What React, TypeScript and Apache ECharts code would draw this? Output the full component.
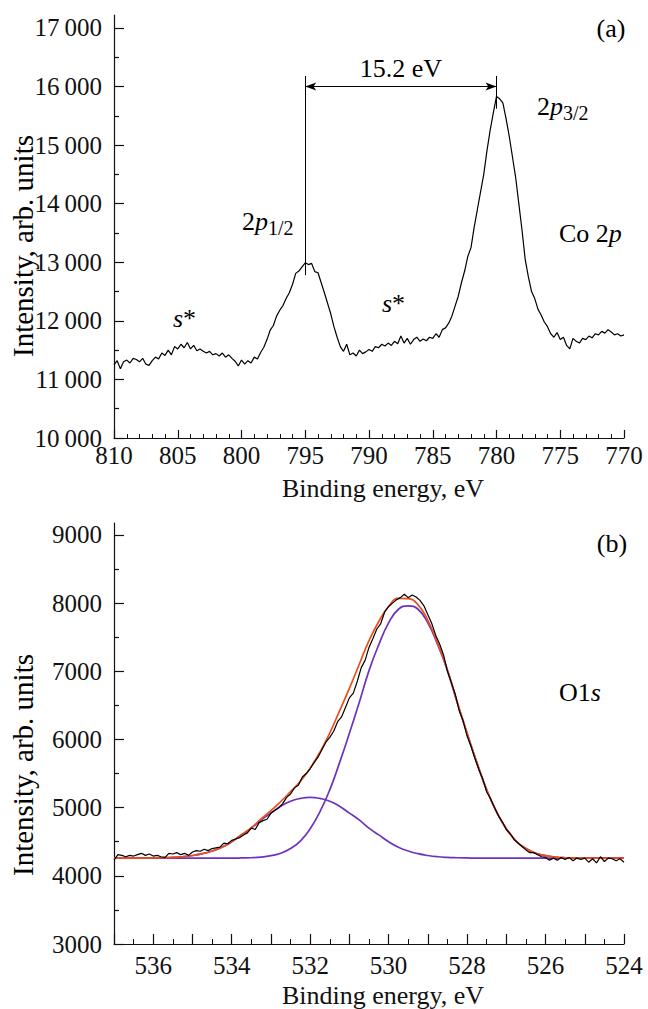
import React, { useEffect, useRef } from "react";
import * as echarts from "echarts";

const FONT = "Liberation Serif, Times New Roman, serif";

// ---------- Panel (a): Co 2p ----------
const CO_START = 810;
const CO_STEP = -0.25;
// intensity every 0.25 eV from 810 eV down to 770 eV
const CO_INTENSITY = [
  11250, 11320, 11180, 11300, // 810
  11330, 11280, 11360, 11340, // 809
  11300, 11360, 11260, 11240, // 808
  11320, 11380, 11350, 11450, // 807
  11410, 11500, 11420, 11560, // 806
  11520, 11600, 11540, 11630, // 805
  11520, 11580, 11490, 11520, // 804
  11480, 11450, 11480, 11420, // 803
  11440, 11400, 11450, 11380, // 802
  11420, 11360, 11310, 11230, // 801
  11330, 11260, 11320, 11280, // 800
  11380, 11350, 11460, 11550, // 799
  11680, 11840, 11920, 12080, // 798
  12180, 12260, 12380, 12480, // 797
  12620, 12810, 12850, 12920, // 796
  12990, 12960, 12980, 12840, // 795
  12820, 12650, 12480, 12300, // 794
  12120, 11900, 11720, 11560, // 793
  11480, 11600, 11420, 11450, // 792
  11400, 11500, 11440, 11470, // 791
  11510, 11480, 11560, 11540, // 790
  11600, 11570, 11620, 11580, // 789
  11650, 11610, 11740, 11620, // 788
  11700, 11600, 11680, 11720, // 787
  11650, 11690, 11660, 11720, // 786
  11700, 11780, 11720, 11850, // 785
  11880, 11960, 12080, 12250, // 784
  12420, 12650, 12850, 13100, // 783
  13250, 13600, 13900, 14200, // 782
  14500, 14900, 15250, 15550, // 781
  15830, 15790, 15720, 15450, // 780
  15150, 14800, 14450, 14000, // 779
  13550, 13050, 12750, 12500, // 778
  12380, 12200, 12100, 11980, // 777
  11900, 11780, 11720, 11800, // 776
  11680, 11720, 11580, 11520, // 775
  11700, 11650, 11620, 11700, // 774
  11680, 11740, 11710, 11780, // 773
  11760, 11820, 11790, 11850, // 772
  11810, 11760, 11780, 11740, // 771
  11760, // 770
];
const CO_X_MIN = 770;
const CO_X_MAX = 810;
const CO_Y_MIN = 10000;
const CO_Y_MAX = 17220;
const CO_Y_MAJOR = [10000, 11000, 12000, 13000, 14000, 15000, 16000, 17000];
const CO_Y_MINOR = [10500, 11500, 12500, 13500, 14500, 15500, 16500];
// annotation: peak positions (eV) and line extents (intensity)
const CO_PEAK_12 = 795;
const CO_PEAK_32 = 780;
const CO_LINE_TOP = 16180;
const CO_LINE_12_BOTTOM = 12780;
const CO_LINE_32_BOTTOM = 15620;
const CO_ARROW_Y = 16000;
const CO_SPLIT_LABEL = "15.2 eV";

// ---------- Panel (b): O 1s ----------
const O_FIT_START = 537;
const O_FIT_STEP = -0.25;
const O_COMP_MAIN = [
  4260, 4260, 4260, 4260, // 537
  4260, 4260, 4260, 4260, // 536
  4260, 4260, 4260, 4260, // 535
  4260, 4262, 4265, 4275, // 534
  4295, 4330, 4400, 4510, // 533
  4690, 4940, 5260, 5660, // 532
  6090, 6540, 7010, 7390, // 531
  7710, 7910, 7960, 7910, // 530
  7710, 7390, 7010, 6540, // 529
  6090, 5660, 5260, 4940, // 528
  4690, 4510, 4400, 4330, // 527
  4295, 4275, 4265, 4262, // 526
  4260, 4260, 4260, 4260, // 525
  4260, // 524
];
const O_COMP_SECOND = [
  4260, 4260, 4260, 4260, // 537
  4262, 4265, 4270, 4280, // 536
  4298, 4325, 4365, 4420, // 535
  4500, 4600, 4700, 4820, // 534
  4920, 5020, 5095, 5135, // 533
  5150, 5135, 5095, 5020, // 532
  4920, 4820, 4700, 4600, // 531
  4500, 4420, 4365, 4325, // 530
  4298, 4280, 4270, 4265, // 529
  4262, 4260, 4260, 4260, // 528
  4260, 4260, 4260, 4260, // 527
  4260, 4260, 4260, 4260, // 526
  4260, 4260, 4260, 4260, // 525
  4260, // 524
];
const O_FIT_SUM = [
  4260, 4260, 4260, 4260, // 537
  4262, 4265, 4270, 4280, // 536
  4298, 4325, 4365, 4420, // 535
  4500, 4602, 4705, 4835, // 534
  4955, 5090, 5235, 5385, // 533
  5580, 5815, 6095, 6420, // 532
  6750, 7100, 7450, 7730, // 531
  7950, 8070, 8065, 7975, // 530
  7748, 7410, 7020, 6545, // 529
  6092, 5660, 5260, 4940, // 528
  4690, 4510, 4400, 4330, // 527
  4295, 4275, 4265, 4262, // 526
  4260, 4260, 4260, 4260, // 525
  4260, // 524
];
const O_EXP_START = 537;
const O_EXP_STEP = -0.1;
const O_EXP = [
  4230,
  4310, 4300, 4280, 4300, 4290, 4310, 4330, 4300, 4320, 4290, // 536.9-536.0
  4300, 4280, 4270, 4330, 4320, 4340, 4310, 4330, 4300, 4350, // 535.9-535.0
  4370, 4360, 4390, 4370, 4400, 4410, 4420, 4480, 4470, 4520, // 534.9-534.0
  4540, 4560, 4600, 4630, 4700, 4680, 4780, 4810, 4830, 4920, // 533.9-533.0
  4960, 5000, 5060, 5150, 5200, 5290, 5330, 5450, 5500, 5570, // 532.9-532.0
  5660, 5740, 5850, 5960, 6030, 6120, 6260, 6330, 6470, 6610, // 531.9-531.0
  6680, 6850, 7050, 7160, 7350, 7480, 7620, 7700, 7870, 7950, // 530.9-530.0
  8000, 8050, 8080, 8130, 8080, 8120, 8090, 8040, 7960, 7830, // 529.9-529.0
  7700, 7530, 7400, 7240, 7000, 6830, 6660, 6420, 6270, 6050, // 528.9-528.0
  5900, 5720, 5560, 5420, 5230, 5130, 5000, 4880, 4790, 4680, // 527.9-527.0
  4620, 4530, 4480, 4430, 4380, 4340, 4340, 4310, 4280, 4270, // 526.9-526.0
  4230, 4260, 4230, 4270, 4240, 4270, 4220, 4260, 4240, 4260, // 525.9-525.0
  4200, 4250, 4190, 4280, 4210, 4260, 4250, 4220, 4250, 4200, // 524.9-524.0
];
const O_X_MIN = 524;
const O_X_MAX = 537;
const O_Y_MIN = 3000;
const O_Y_MAX = 9175;
const O_Y_MAJOR = [3000, 4000, 5000, 6000, 7000, 8000, 9000];
const O_Y_MINOR = [3500, 4500, 5500, 6500, 7500, 8500];

const X_TITLE = "Binding energy, eV";
const Y_TITLE = "Intensity, arb. units";

function toPairs(start: number, step: number, values: number[]) {
  return values.map((v, i) => [Number((start + step * i).toFixed(3)), v]);
}

const AXIS_COLOR = "#111";
const TEXT_COLOR = "#111";

function yAxesFor(grid: number, min: number, max: number, major: number[], minor: number[], fmt: (v: number) => string) {
  return [
    {
      type: "value",
      gridIndex: grid,
      position: "left",
      min,
      max,
      interval: 1000,
      axisLine: { show: true, onZero: false, lineStyle: { color: AXIS_COLOR, width: 1.2 } },
      axisTick: { show: true, inside: true, length: 10, customValues: major, lineStyle: { color: AXIS_COLOR, width: 1.2 } },
      axisLabel: {
        show: true,
        customValues: major,
        margin: 12,
        fontSize: 25,
        fontFamily: FONT,
        color: TEXT_COLOR,
        formatter: fmt,
      },
      splitLine: { show: false },
    },
    {
      type: "value",
      gridIndex: grid,
      position: "left",
      min,
      max,
      interval: 500,
      axisLine: { show: false },
      axisTick: { show: true, inside: true, length: 5, customValues: minor, lineStyle: { color: AXIS_COLOR, width: 1.2 } },
      axisLabel: { show: false },
      splitLine: { show: false },
    },
  ];
}

export default function App() {
  const ref = useRef<HTMLDivElement>(null);

  useEffect(() => {
    document.body.style.margin = "0";
    if (!ref.current) return;
    const chart = echarts.init(ref.current, undefined, { renderer: "svg" });

    const coFmt = (v: number) => {
      const s = String(Math.round(v));
      return s.length > 3 ? s.slice(0, s.length - 3) + "\u2009" + s.slice(s.length - 3) : s;
    };

    const richBase = {
      n: { fontSize: 26, fontFamily: FONT, color: "#000" },
      i: { fontSize: 26, fontFamily: FONT, fontStyle: "italic", color: "#000" },
      sub: { fontSize: 20, fontFamily: FONT, color: "#000", padding: [14, 0, 0, 0] },
      t: { fontSize: 29, fontFamily: FONT, color: TEXT_COLOR },
    };

    const textEl = (x: number, y: number, text: string, align = "left", rotation = 0) => ({
      type: "text",
      x,
      y,
      rotation,
      silent: true,
      style: {
        text,
        fontSize: 26,
        fontFamily: FONT,
        fill: "#000",
        align,
        verticalAlign: "middle",
        rich: richBase,
      },
    });

    const xName = {
      name: X_TITLE,
      nameLocation: "middle",
      nameTextStyle: { fontSize: 26, fontFamily: FONT, color: TEXT_COLOR, padding: [0, 0, 0, 28] },
    };

    const option: any = {
      animation: false,
      backgroundColor: "#fff",
      textStyle: { fontFamily: FONT },
      grid: [
        { left: 114, right: 24, top: 15, height: 423 },
        { left: 114, right: 24, top: 523, height: 424 },
      ],
      xAxis: [
        {
          type: "value",
          gridIndex: 0,
          min: CO_X_MIN,
          max: CO_X_MAX,
          interval: 5,
          inverse: true,
          axisLine: { show: true, onZero: false, lineStyle: { color: AXIS_COLOR, width: 1.2 } },
          axisTick: { show: true, inside: true, length: 8, lineStyle: { color: AXIS_COLOR, width: 1.2 } },
          minorTick: { show: true, splitNumber: 5, length: 4, lineStyle: { color: AXIS_COLOR, width: 1 } },
          axisLabel: { margin: 5, fontSize: 25, fontFamily: FONT, color: TEXT_COLOR },
          splitLine: { show: false },
          ...xName,
          nameGap: 37,
        },
        {
          type: "value",
          gridIndex: 1,
          min: O_X_MIN,
          max: O_X_MAX,
          interval: 1,
          inverse: true,
          axisLine: { show: true, onZero: false, lineStyle: { color: AXIS_COLOR, width: 1.2 } },
          axisTick: { show: true, inside: true, length: 10, lineStyle: { color: AXIS_COLOR, width: 1.2 } },
          minorTick: { show: true, splitNumber: 2, length: 5, lineStyle: { color: AXIS_COLOR, width: 1 } },
          axisLabel: {
            margin: 9,
            fontSize: 25,
            fontFamily: FONT,
            color: TEXT_COLOR,
            formatter: (v: number) => (Math.round(v) % 2 === 0 ? String(Math.round(v)) : ""),
          },
          splitLine: { show: false },
          ...xName,
          nameGap: 38,
        },
      ],
      yAxis: [
        ...yAxesFor(0, CO_Y_MIN, CO_Y_MAX, CO_Y_MAJOR, CO_Y_MINOR, coFmt),
        ...yAxesFor(1, O_Y_MIN, O_Y_MAX, O_Y_MAJOR, O_Y_MINOR, (v: number) => String(Math.round(v))),
      ],
      series: [
        {
          name: "Co 2p",
          type: "line",
          xAxisIndex: 0,
          yAxisIndex: 0,
          data: toPairs(CO_START, CO_STEP, CO_INTENSITY),
          showSymbol: false,
          lineStyle: { color: "#000", width: 1.2 },
          z: 3,
          markLine: {
            silent: true,
            symbol: "none",
            animation: false,
            lineStyle: { color: "#000", width: 1, type: "solid" },
            label: { show: false },
            emphasis: { disabled: true },
            data: [
              [{ coord: [CO_PEAK_12, CO_LINE_TOP] }, { coord: [CO_PEAK_12, CO_LINE_12_BOTTOM] }],
              [{ coord: [CO_PEAK_32, CO_LINE_TOP] }, { coord: [CO_PEAK_32, CO_LINE_32_BOTTOM] }],
              [
                {
                  coord: [CO_PEAK_12, CO_ARROW_Y],
                  symbol: "arrow",
                  symbolSize: [6, 11],
                  label: {
                    show: true,
                    position: "insideMiddleTop",
                    formatter: CO_SPLIT_LABEL,
                    distance: 5,
                    fontSize: 26,
                    fontFamily: FONT,
                    color: "#000",
                  },
                },
                { coord: [CO_PEAK_32, CO_ARROW_Y], symbol: "arrow", symbolSize: [6, 11] },
              ],
            ],
          },
        },
        {
          name: "O1s component 1",
          type: "line",
          xAxisIndex: 1,
          yAxisIndex: 2,
          data: toPairs(O_FIT_START, O_FIT_STEP, O_COMP_MAIN),
          smooth: true,
          showSymbol: false,
          lineStyle: { color: "#6C34BE", width: 1.7 },
          z: 2,
        },
        {
          name: "O1s component 2",
          type: "line",
          xAxisIndex: 1,
          yAxisIndex: 2,
          data: toPairs(O_FIT_START, O_FIT_STEP, O_COMP_SECOND),
          smooth: true,
          showSymbol: false,
          lineStyle: { color: "#6C34BE", width: 1.7 },
          z: 2,
        },
        {
          name: "O1s fit",
          type: "line",
          xAxisIndex: 1,
          yAxisIndex: 2,
          data: toPairs(O_FIT_START, O_FIT_STEP, O_FIT_SUM),
          smooth: true,
          showSymbol: false,
          lineStyle: { color: "#EE4E1A", width: 1.7 },
          z: 3,
        },
        {
          name: "O1s experiment",
          type: "line",
          xAxisIndex: 1,
          yAxisIndex: 2,
          data: toPairs(O_EXP_START, O_EXP_STEP, O_EXP),
          showSymbol: false,
          lineStyle: { color: "#000", width: 1.2 },
          z: 4,
        },
      ],
      graphic: [
        textEl(23, 246, "{t|" + Y_TITLE + "}", "center", Math.PI / 2),
        textEl(23, 765, "{t|" + Y_TITLE + "}", "center", Math.PI / 2),
        textEl(611, 28, "{n|(a)}", "center"),
        textEl(537, 106, "{n|2}{i|p}{sub|3/2}"),
        textEl(242, 221, "{n|2}{i|p}{sub|1/2}"),
        textEl(559, 233, "{n|Co 2}{i|p}"),
        textEl(173, 318, "{i|s}{n|*}"),
        textEl(382, 303, "{i|s}{n|*}"),
        textEl(612, 543, "{n|(b)}", "center"),
        textEl(559, 692, "{n|O1}{i|s}"),
      ],
    };

    chart.setOption(option);
    return () => chart.dispose();
  }, []);

  return <div ref={ref} style={{ width: 648, height: 1009 }} />;
}
